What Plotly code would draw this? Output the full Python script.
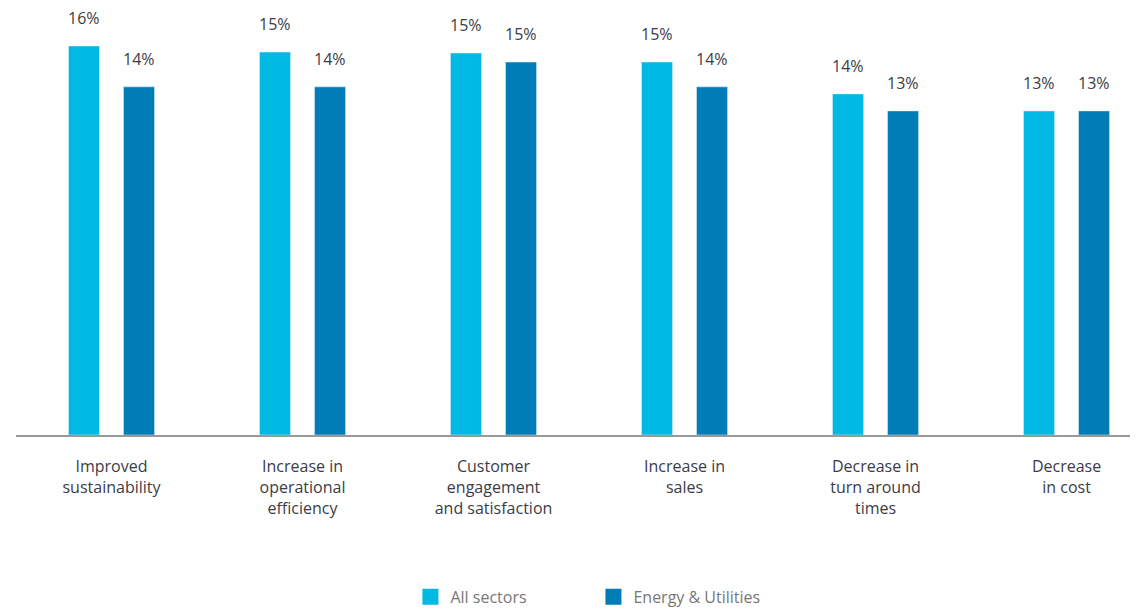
import plotly.graph_objects as go

categories = ["Improved<br>sustainability", "Increase in<br>operational<br>efficiency",
              "Customer<br>engagement<br>and satisfaction", "Increase in<br>sales",
              "Decrease in<br>turn around<br>times", "Decrease<br>in cost"]
all_sectors = [16.0, 15.75, 15.71, 15.34, 14.03, 13.33]
all_sectors_labels = ["16%", "15%", "15%", "15%", "14%", "13%"]
energy = [14.32, 14.32, 15.34, 14.32, 13.33, 13.33]
energy_labels = ["14%", "14%", "15%", "14%", "13%", "13%"]

C_ALL = "#00B9E4"
C_EN = "#007DB6"

fig = go.Figure()
fig.add_trace(go.Bar(x=categories, y=all_sectors, name="All sectors",
                     marker_color=C_ALL, showlegend=False))
fig.add_trace(go.Bar(x=categories, y=energy, name="Energy & Utilities",
                     marker_color=C_EN, showlegend=False))

# legend entries with larger square symbols
for name, col in [("All sectors", C_ALL), ("Energy & Utilities", C_EN)]:
    fig.add_trace(go.Scatter(x=[None], y=[None], mode="markers", name=name,
                             marker=dict(symbol="square", size=16, color=col)))

# value labels
for vals, labs, shift in [(all_sectors, all_sectors_labels, -27.5), (energy, energy_labels, 27.5)]:
    for c, v, t in zip(categories, vals, labs):
        fig.add_annotation(x=c, y=v, text=t, showarrow=False, xshift=shift,
                           yanchor="bottom", yshift=16, borderpad=0,
                           font=dict(size=16, color="#3c3c46"))

fig.update_layout(
    width=1138, height=609,
    margin=dict(l=8, r=0, t=12, b=182, autoexpand=False),
    plot_bgcolor="white", paper_bgcolor="white",
    barmode="group", bargap=0.424, bargroupgap=0.436,
    font=dict(family="Open Sans", size=16, color="#3c3c46"),
    xaxis=dict(range=[-0.5, 5.416], showline=True, linecolor="#999999", linewidth=2,
               showgrid=False, ticks="", ticklabelstandoff=16,
               tickfont=dict(size=16, color="#3c3c46")),
    yaxis=dict(range=[0, 17.07], visible=False, showgrid=False),
    legend=dict(orientation="h", x=0.511, xanchor="center", y=-0.39, yanchor="middle",
                font=dict(size=16, color="#777777"), entrywidth=138,
                itemsizing="trace", traceorder="normal"),
    showlegend=True,
)

fig.write_html("out.html")
